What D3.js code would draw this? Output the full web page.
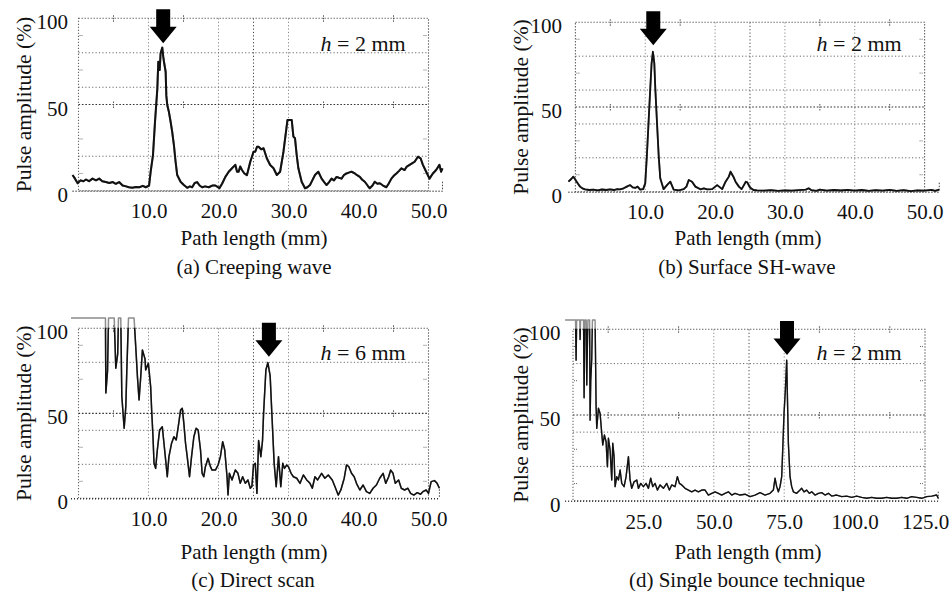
<!DOCTYPE html>
<html><head><meta charset="utf-8">
<script src="https://cdn.jsdelivr.net/npm/d3@7"></script>
<style>
body{margin:0;background:#fff;}
</style></head><body>
<svg id="chart" width="949" height="591"></svg>
<script>
// ---------------- DATA ----------------
const aPath=[-0.85,-0.5,-0.12,0.3,0.7,1.07,1.5,2.0,2.5,2.96,3.4,3.9,4.4,4.9,5.33,5.8,6.3,6.8,7.2,7.7,8.2,8.7,9.2,9.6,10.08,10.31,10.64,10.93,11.26,11.4,11.6,11.73,11.97,12.1,12.21,12.45,12.55,12.68,12.9,13.16,13.39,13.63,13.87,14.1,14.58,15.05,15.53,15.9,16.24,16.6,16.95,17.3,17.66,18.1,18.61,19.1,19.56,20.13,20.51,20.98,21.46,21.93,22.4,22.65,22.88,23.1,23.35,23.7,24.06,24.54,24.8,25.0,25.25,25.5,25.72,26.1,26.44,26.9,27.38,27.86,28.33,28.8,29.28,29.52,29.85,30.46,30.7,30.93,31.17,31.41,31.88,32.36,32.7,33.07,33.4,33.78,34.26,34.73,35.1,35.44,35.8,36.15,36.5,36.87,37.2,37.58,37.9,38.29,38.6,39.0,39.48,39.8,40.19,40.5,40.9,41.3,41.61,42.0,42.32,42.7,43.04,43.5,43.98,44.3,44.7,45.0,45.41,45.8,46.12,46.59,46.9,47.3,47.7,48.02,48.49,48.87,49.2,49.67,50.14,50.62,51.09,51.56,51.8,52.0];
const aAmp=[9.1,7,4.3,6,5.5,6.5,5.5,7,6,7,5.5,5,4.5,5,4,5,3,2.5,2,1.7,2.2,2,2.8,2,3,11,20.7,40,59,74.8,70,79.7,83,78,74.8,69,55,49.7,46,40,34,26.5,16.8,9.1,5.2,3.3,1.7,2.5,2,4.5,5,3,2,2.5,2,3,3,1.5,4,8,11,13,15,11,11,14,12,10,9,16.8,20,22.6,22.6,25.5,25.5,24,24.6,18.8,14.9,13,9.1,11,22.6,30.4,41,41,31.4,30.4,20.7,13,5.2,1.4,2,3.3,6,9.1,11,7,5,3.3,5,7,6,8,7.5,7,9,10,10.5,11,10,9,8,6.5,5.2,3,1.4,3,5.2,4,4.3,3,2,4,7,8.5,10,11.5,13,12,14,15,16,16.8,19.7,18.8,15,11,7,10,12,15,11,13];

const bPath=[-1.0,-0.6,-0.3,0.0,0.18,0.4,0.66,1.0,1.38,2.0,2.58,3.2,3.8,4.4,4.97,5.5,6.0,6.41,6.9,7.37,7.6,7.84,8.2,8.56,8.9,9.28,9.7,10.0,10.24,10.48,10.72,10.91,11.1,11.3,11.44,11.68,11.92,12.15,12.63,13.11,13.59,14.07,14.79,15.51,15.9,16.23,16.7,17.18,17.9,18.4,18.86,19.58,20.3,21.02,21.5,21.97,22.21,22.6,22.93,23.41,23.8,24.13,24.4,24.61,25.0,25.5,26,27,28,29,30,31,32,33,33.4,33.8,34.5,35,36,37,38,39,40,41,42,43,44,45,46,47,48,49,50,51,51.5,52.1];
const bAmp=[5.9,7.5,8.9,7,5.9,4.5,3,2,1.4,1.0,1.2,0.8,1.3,1.0,1.4,1.0,1.5,1.4,2,3,3.5,3.9,2.5,2.2,3.0,1.2,1.5,4.9,21.7,41.3,61,75.8,82.6,75.8,61,41,21.7,7.9,1.5,3.9,5.9,1.2,0.8,1.5,3,6.9,5.9,3,1.4,2,1.4,1.5,3.9,1.5,5.9,8.9,11.8,9,5.9,3,1.5,3.9,5.9,5.5,2.5,1.0,0.8,0.6,0.9,0.5,0.8,0.6,0.9,1.2,2,0.9,0.5,1.2,0.6,1.0,0.7,1.1,0.6,1.0,0.5,0.9,0.6,1.1,0.5,0.9,0.4,0.8,0.6,1.1,0.5,1.2];

const cPath=[-1.07,3.85,3.91,4.15,4.29,5.1,5.33,5.6,5.71,6.04,6.19,6.52,6.76,6.9,7.14,7.94,8.18,8.42,8.65,8.89,9.13,9.5,9.6,9.98,10.31,10.45,10.64,10.79,11.02,11.26,11.59,11.97,12.21,12.45,12.68,12.92,13.3,13.63,13.96,14.25,14.58,14.82,15.05,15.29,15.53,15.86,16.15,16.48,16.81,17.09,17.43,17.66,17.9,18.13,18.51,18.85,19.08,19.56,19.94,20.27,20.6,20.89,21.22,21.36,21.55,21.93,22.4,22.78,23.11,23.45,23.83,24.2,24.54,24.77,25.0,25.25,25.49,25.73,26.05,26.29,26.44,26.77,27.05,27.38,27.62,27.95,28.24,28.57,28.9,29.18,29.42,29.75,29.99,30.37,30.7,31.18,31.65,32.12,32.6,33.07,33.4,33.78,34.16,34.73,35.2,35.68,36.25,36.63,37.1,37.48,37.96,38.29,38.62,39.0,39.38,39.71,40.19,40.66,41.13,41.61,42.08,42.56,43.03,43.51,43.89,44.31,44.6,44.93,45.26,45.73,46.11,46.59,47.06,47.44,47.91,48.39,48.86,49.19,49.67,50.0,50.38,50.85,51.23,51.56];
const cAmp=[106,106,62,75,106,106,76.5,85,106,106,60,41.2,53.9,75,106,106,89,71.5,57.8,71.5,87.2,82,75.5,79.4,65.6,51.9,36.2,20.6,17.6,28.4,40.2,42.1,32.4,22.5,12.7,24.5,32.4,36.2,34.3,42.1,51.9,53,44.1,32.4,24.5,12.7,24.5,36.2,41.2,40.2,28.4,14.7,12.7,18.6,23.5,18.6,16.6,16.6,19.6,24.5,33.3,28.4,12.7,1.9,14.7,10.8,16.6,14.7,8.8,12.7,8.8,10.8,5.9,6.9,19.6,20.6,2.9,34,24.5,34,50,75.5,79.8,72,50,20.6,6.8,24.5,6.8,20.6,17.6,19.6,18.6,14.7,12.7,11.8,8.8,13.7,10.8,8.8,5.9,12.7,10.8,14.7,11.8,13.7,10.8,6.9,1.9,4.9,11.8,19.6,18.6,14.7,12.7,8.8,4.9,7.8,3.9,2.9,5.9,7.8,11.8,14.7,8.8,12.7,16.6,14.7,8.8,10.8,5.9,4.9,5.9,2.9,1.9,3.3,2.4,3.9,4.9,2.9,9.8,10.4,8.8,5.9];

const dPath=[-2.8,0.9,1.1,1.3,2.4,2.52,2.7,3.75,3.94,4.2,4.7,4.89,5.1,5.3,5.9,6.07,6.3,6.66,6.9,7.85,8.2,8.44,9.03,9.62,10.21,10.57,11.16,11.75,12.22,12.58,13.17,13.76,14.12,14.59,14.95,15.54,16.13,16.72,17.31,18.14,18.85,19.68,20.27,20.86,21.69,22.64,23.23,24.06,25,25.95,26.78,27.6,28.32,29.14,29.97,30.92,32.1,33.28,34.23,35.06,36.24,37.07,37.78,38.61,39.79,40.98,42.16,43.34,44.53,45.71,46.9,48.08,49.26,50.44,51.63,52.81,53.99,55.17,56.36,57.54,59.32,61.09,62.87,64.64,66.42,68.19,69.97,71.15,71.74,72.33,72.93,73.52,74.11,74.47,74.94,75.41,75.89,76.12,76.48,77.07,77.66,78.25,79.44,80.62,81.21,82.04,82.99,83.93,84.76,85.95,87.13,88.31,89.5,90.68,91.86,93.64,95.41,97.19,98.96,100.74,102.51,104.29,106.06,107.84,109.61,111.39,113.17,114.94,116.72,118.49,120.27,122.04,123.82,125.59,127.37,129.14,129.7];
const dAmp=[105.4,105.4,82,105.4,105.4,94,105.4,105.4,60,105.4,105.4,67.5,90,105.4,105.4,47,70,83,105.4,105.4,54.9,42.2,53.9,50.9,39.3,32.5,38.3,34.4,19.8,36.4,29.6,12.1,33.5,25.7,8.2,14.0,12.1,17.9,10.1,8.2,14.0,25.7,12.1,7.2,11,12.1,7.2,10.1,8.2,10.1,7.2,13.1,8.2,10.1,6.2,9.2,7.2,10.1,6.2,9.2,8.2,14.0,10.1,9.2,7.2,6.2,5.2,6.2,5.2,6.2,6.2,3.3,4.3,5.2,4.3,3.3,4.3,5.2,3.3,4.3,3.3,3.8,2.35,3.3,4.7,3.3,4.3,6.2,13.1,8.2,5.2,8.2,14,29.6,50.9,64.5,82,62.6,33.5,14,8.2,5.2,4.3,6.2,7.2,5.2,6.2,4.3,5.2,3.3,4.3,4.7,3.3,4.3,2.7,3.3,2.35,2.7,1.95,2.7,1.95,1.4,1.95,1.4,1.4,1.95,1.4,1.4,1.95,1.4,2.35,1.95,1.4,2.35,2.7,3.3,1.5];

const yTicks=[0,50,100];
const xTicks50=[10,20,30,40,50];
const xTicks125=[25,50,75,100,125];
const xDomainMax=[50,50,50,125];
const gridXa=[10,20,25,30], gridXb=[10,20,25,30,40], gridXc=[10,20,25,30], gridXd=[25,50,62.5,75,100];
const gridYa=[20,60,80], gridYb=[20,40,60,80], gridYc=[20,40,80], gridYd=[20,40,80];
const captions=["(a) Creeping wave","(b) Surface SH-wave","(c) Direct scan","(d) Single bounce technique"];
const hValues=["2","2","6","2"];
const arrowPath=[12.1,11.15,27.2,76.0];
const arrowAmp=[85.5,86.5,83.3,85];
const yTitle="Pulse amplitude (%)";
const xTitle="Path length (mm)";

// ---------------- LAYOUT ----------------
const FONT="Liberation Serif";
const panels=[
 {px:aPath, amp:aAmp, xt:xTicks50, gx:gridXa, gy:gridYa, x0:78.5, x1:428.5, yT:18.3, yB:190.7, yPad:10.5, ylx:31, tcx:254, titleY:245, capY:273.5, capX:254, hx:405.7, hy:50.7, sw:2.0},
 {px:bPath, amp:bAmp, xt:xTicks50, gx:gridXb, gy:gridYb, x0:575.4, x1:924.6, yT:22.3, yB:191.7, yPad:13.5, ylx:527.5, tcx:748, titleY:245, capY:273.5, capX:747, hx:901.7, hy:50.7, sw:1.8},
 {px:cPath, amp:cAmp, xt:xTicks50, gx:gridXc, gy:gridYc, x0:78.5, x1:428.5, yT:328.3, yB:498.3, yPad:10.5, ylx:31, tcx:254, titleY:558.5, capY:587, capX:253, hx:405.7, hy:360, sw:1.5},
 {px:dPath, amp:dAmp, xt:xTicks125, gx:gridXd, gy:gridYd, x0:573, x1:925, yT:329.3, yB:500.7, yPad:12.5, ylx:527.5, tcx:748, titleY:558.5, capY:587, capX:747, hx:901.7, hy:360, sw:1.4}
];

const svg=d3.select("#chart");
const FS=21;

panels.forEach((p,i)=>{
  const x=d3.scaleLinear().domain([0,xDomainMax[i]]).range([p.x0,p.x1]);
  const y=d3.scaleLinear().domain([0,100]).range([p.yB,p.yT]);
  const g=svg.append("g");
  const dmax=xDomainMax[i];
  const data=p.px.map((v,k)=>({x:v,y:p.amp[k]}));
  const xmin=d3.min(p.px), xmaxD=d3.max(p.px);

  // grid
  const dot="1.2,2.2";
  g.selectAll(".gx").data(p.gx).join("line")
    .attr("x1",d=>x(d)).attr("x2",d=>x(d)).attr("y1",y(100)).attr("y2",y(0))
    .attr("stroke",d=>d===dmax/2?"#444":"#8a8a8a").attr("stroke-width",1).attr("stroke-dasharray",dot);
  g.selectAll(".gy").data(p.gy).join("line")
    .attr("x1",x(0)).attr("x2",x(dmax)).attr("y1",d=>y(d)).attr("y2",d=>y(d))
    .attr("stroke","#6a6a6a").attr("stroke-width",1).attr("stroke-dasharray",dot);
  g.append("line").attr("x1",x(0)).attr("x2",x(dmax)).attr("y1",y(50)).attr("y2",y(50))
    .attr("stroke","#333").attr("stroke-width",1.2).attr("stroke-dasharray","1.6,1.8");
  // frame
  g.append("rect").attr("x",x(0)).attr("y",y(100)).attr("width",x(dmax)-x(0)).attr("height",y(0)-y(100))
    .attr("fill","none").attr("stroke","#666").attr("stroke-width",1.1).attr("stroke-dasharray","1.4,1.6");
  // minor marks
  const fr=[0.1,0.3,0.7,0.9];
  fr.forEach(f=>{
    [100,50].forEach(v=>{
      g.append("line").attr("x1",x(f*dmax)).attr("x2",x(f*dmax)).attr("y1",y(v)-3).attr("y2",y(v)+4)
        .attr("stroke","#555").attr("stroke-width",1).attr("stroke-dasharray","1.5,1");
    });
    [x(0)+1,x(dmax)-5].forEach(xx=>{
      g.append("line").attr("x1",xx).attr("x2",xx+4).attr("y1",y(f*100)).attr("y2",y(f*100))
        .attr("stroke","#666").attr("stroke-width",1).attr("stroke-dasharray","1,1");
    });
  });
  // zero baseline across full trace
  g.append("line").attr("x1",x(xmin)).attr("x2",x(xmaxD)).attr("y1",y(0)+0.5).attr("y2",y(0)+0.5)
    .attr("stroke","#333").attr("stroke-width",1.6).attr("stroke-dasharray","1,2");
  g.append("line").attr("x1",x(xmaxD)).attr("x2",x(xmaxD)).attr("y1",y(0)-9).attr("y2",y(0))
    .attr("stroke","#444").attr("stroke-width",1).attr("stroke-dasharray","1.5,1.5");

  // trace
  const line=d3.line().x(d=>x(d.x)).y(d=>y(d.y)).curve(d3.curveLinear);
  const cid="clip"+i;
  svg.append("clipPath").attr("id",cid).append("rect")
    .attr("x",0).attr("y",y(100)-0.5).attr("width",949).attr("height",y(0)-y(100)+30);
  g.append("path").datum(data).attr("d",line).attr("fill","none")
    .attr("stroke","#8c8c8c").attr("stroke-width",p.sw).attr("stroke-linejoin","round");
  g.append("path").datum(data).attr("d",line).attr("fill","none").attr("clip-path",`url(#${cid})`)
    .attr("stroke","#111").attr("stroke-width",p.sw).attr("stroke-linejoin","round");

  // axes (labels only)
  const ya=g.append("g").attr("transform",`translate(${x(0)},0)`)
    .call(d3.axisLeft(y).tickValues(yTicks).tickSize(0).tickPadding(p.yPad).tickFormat(d3.format("d")));
  ya.select(".domain").remove();
  ya.attr("font-size",FS).attr("font-family",FONT);
  ya.selectAll("text").attr("dy","0.5em").attr("fill","#111").attr("font-family",FONT);

  const xa=g.append("g").attr("transform",`translate(0,${y(0)})`)
    .call(d3.axisBottom(x).tickValues(p.xt).tickSize(0).tickPadding(i<2?12.5:13).tickFormat(d3.format(".1f")));
  xa.select(".domain").remove();
  xa.attr("font-size",FS).attr("font-family",FONT);
  xa.selectAll("text").attr("fill","#111").attr("font-family",FONT);

  // titles
  g.append("text").attr("transform",`translate(${p.ylx},${(y(0)+y(100))/2}) rotate(-90)`)
    .attr("text-anchor","middle").attr("font-family",FONT).attr("font-size",FS+0.5).attr("fill","#111").text(yTitle);
  g.append("text").attr("x",p.tcx).attr("y",p.titleY).attr("text-anchor","middle").attr("font-family",FONT).attr("font-size",FS).attr("fill","#111").text(xTitle);
  g.append("text").attr("x",p.capX).attr("y",p.capY).attr("text-anchor","middle").attr("font-family",FONT).attr("font-size",FS).attr("fill","#111").text(captions[i]);

  // h label
  const ht=g.append("text").attr("x",p.hx).attr("y",p.hy).attr("text-anchor","end").attr("font-family",FONT).attr("font-size",FS+1).attr("fill","#111");
  ht.append("tspan").attr("font-style","italic").text("h");
  ht.append("tspan").text(" = "+hValues[i]+" mm");

  // arrow
  const tx=x(arrowPath[i]), ty=y(arrowAmp[i]);
  const pts=[[tx-7,ty-34],[tx+7,ty-34],[tx+7,ty-16.5],[tx+13.5,ty-16.5],[tx,ty],[tx-13.5,ty-16.5],[tx-7,ty-16.5]];
  g.append("polygon").attr("points",pts.map(q=>q.join(",")).join(" ")).attr("fill","#000");
});
</script>
</body></html>
